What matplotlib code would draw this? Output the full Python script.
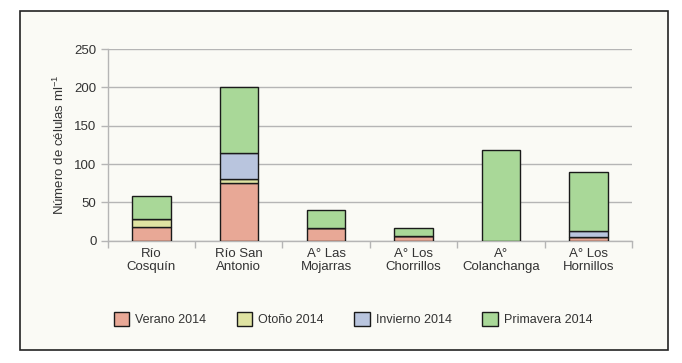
import matplotlib
matplotlib.use("Agg")
import matplotlib.pyplot as plt
import matplotlib.patches as mpatches
import numpy as np

plt.rcParams['font.family'] = ['Liberation Sans', 'DejaVu Sans']
plt.rcParams['mathtext.fontset'] = 'custom'
plt.rcParams['mathtext.rm'] = 'Liberation Sans'
plt.rcParams['mathtext.it'] = 'Liberation Sans'

categories = ["Río\nCosquín", "Río San\nAntonio", "A° Las\nMojarras", "A° Los\nChorrillos", "A°\nColanchanga", "A° Los\nHornillos"]
series_names = ["Verano 2014", "Otoño 2014", "Invierno 2014", "Primavera 2014"]
verano = [18, 75, 17, 6, 0, 5]
otono = [10, 5, 0, 0, 0, 0]
invierno = [0, 34, 0, 0, 0, 8]
primavera = [30, 86, 23, 10, 118, 76]
yticks = [0, 50, 100, 150, 200, 250]

colors = ["#e8a896", "#dfe3a2", "#b9c5de", "#a9d898"]
bg = "#fafaf5"
fs = 9.5

fig = plt.figure(figsize=(6.82, 3.63), dpi=100, facecolor="white")
# outer frame
frame = mpatches.Rectangle((20/682, 1-350/363), (668-20)/682, (350-11)/363,
                           transform=fig.transFigure, facecolor=bg, edgecolor="#222222",
                           linewidth=1.2, zorder=-10)
fig.patches.append(frame)

ax = fig.add_axes([107.7/682, 1-240.7/363, (632-107.7)/682, (240.7-49)/363])
ax.set_zorder(5)
ax.patch.set_alpha(0)

x = np.arange(len(categories))
bottom = np.zeros(len(categories))
data = [verano, otono, invierno, primavera]
for vals, c, name in zip(data, colors, series_names):
    v = np.array(vals, dtype=float)
    ax.bar(x, v, width=0.44, bottom=bottom, color=c, edgecolor="#1a1a1a",
           linewidth=1.0, label=name, zorder=3)
    bottom += v

ax.set_xlim(-0.5, len(categories) - 0.5)
ax.set_ylim(0, 250)
ax.set_yticks(yticks)
ax.yaxis.grid(True, color="#b5b5b5", linewidth=1.0, zorder=0)
ax.set_axisbelow(True)
for s in ["top", "right"]:
    ax.spines[s].set_visible(False)
ax.spines["left"].set_color("#b5b5b5")
ax.spines["bottom"].set_color("#b5b5b5")
ax.spines["left"].set_linewidth(1.0)
ax.spines["bottom"].set_linewidth(1.0)
ax.tick_params(axis="y", colors="#b5b5b5", labelcolor="#333333", labelsize=fs, length=5, width=1, pad=3)
ax.set_xticks(x)
ax.set_xticklabels(categories, fontsize=fs, color="#333333", linespacing=1.1)
ax.tick_params(axis="x", length=0, pad=5)
ax.set_xticks(np.arange(-0.5, len(categories) + 0.5, 1), minor=True)
ax.tick_params(axis="x", which="minor", length=5, width=1, colors="#b5b5b5")
ax.set_ylabel(r"Número de células ml$^{-1}$", fontsize=fs, color="#333333", labelpad=5)

handles = [mpatches.Patch(facecolor=c, edgecolor="#1a1a1a", linewidth=1.0) for c in colors]
leg = fig.legend(handles, series_names, loc="center", bbox_to_anchor=(353/682, 1-319/363),
           ncol=4, frameon=False, fontsize=9, handlelength=1.25, handleheight=1.35,
           columnspacing=2.4, handletextpad=0.5, labelcolor="#333333")
leg.set_zorder(6)

fig.savefig("out.png", dpi=100, facecolor="white")
